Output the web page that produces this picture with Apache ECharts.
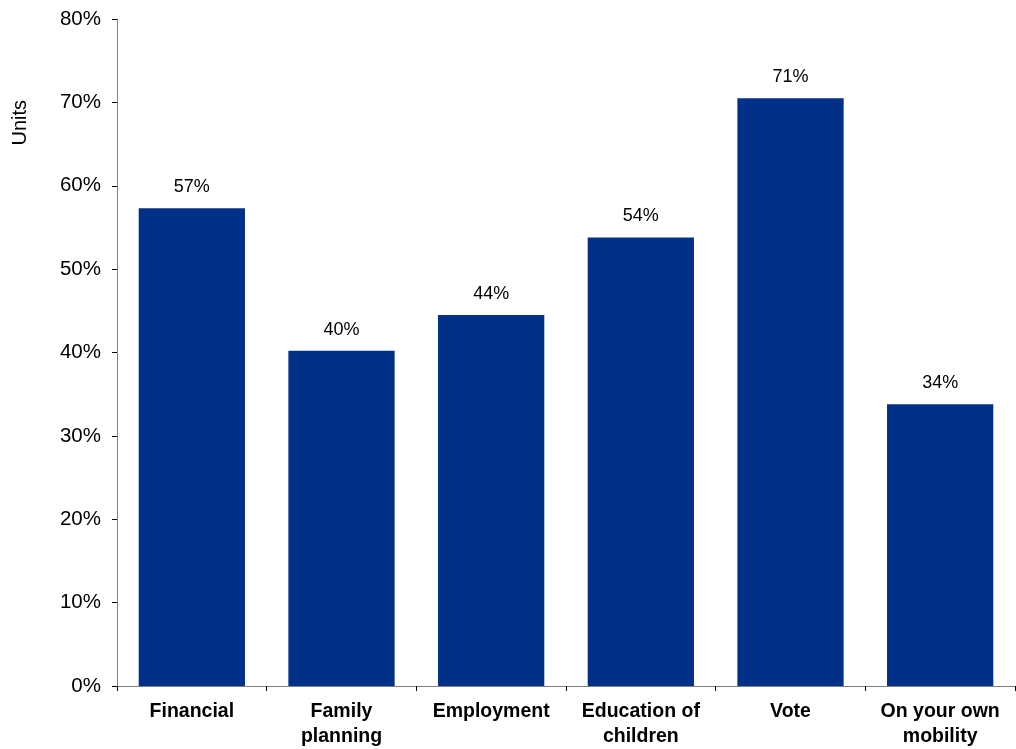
<!DOCTYPE html>
<html><head><meta charset="utf-8">
<script src="https://cdn.jsdelivr.net/npm/echarts@6/dist/echarts.min.js"></script>
<style>html,body{margin:0;padding:0;background:#fff}#c{width:1016px;height:749px}</style>
</head><body><div id="c"></div>
<script>
const categories = ["Financial", "Family\nplanning", "Employment", "Education of\nchildren", "Vote", "On your own\nmobility"];
const values = [57.3, 40.2, 44.49, 53.8, 70.5, 33.8];
const yTicks = { min: 0, max: 80, interval: 10 };
const yTitle = "Units";

const FONT = '"Liberation Sans", Arial, sans-serif';
const chart = echarts.init(document.getElementById('c'));
chart.setOption({
  animation: false,
  grid: { left: 117, right: 1, top: 19, bottom: 63, containLabel: false },
  graphic: [{ type: 'text', left: 10, top: 100, rotation: Math.PI / 2,
    style: { text: yTitle, font: '20px ' + FONT, fill: '#000' } }],
  xAxis: {
    type: 'category', data: categories,
    axisLine: { lineStyle: { color: '#808080', width: 1 } },
    axisTick: { show: true, length: 5, lineStyle: { color: '#000' } },
    axisLabel: { color: '#000', fontFamily: FONT, fontWeight: 'bold', fontSize: 19.5, lineHeight: 25, margin: 13, interval: 0 }
  },
  yAxis: {
    type: 'value', min: yTicks.min, max: yTicks.max, interval: yTicks.interval,
    axisLine: { show: true, lineStyle: { color: '#808080', width: 1 } },
    axisTick: { show: true, length: 5, lineStyle: { color: '#000' } },
    splitLine: { show: false },
    axisLabel: { color: '#000', fontFamily: FONT, fontSize: 20.5, margin: 16, formatter: '{value}%' }
  },
  series: [{
    type: 'bar', data: values, barCategoryGap: '29%',
    itemStyle: { color: '#003087' },
    label: { show: true, position: 'top', distance: 12, color: '#000', fontFamily: FONT, fontSize: 18,
      formatter: p => Math.round(p.value) + '%' }
  }]
});
</script></body></html>
